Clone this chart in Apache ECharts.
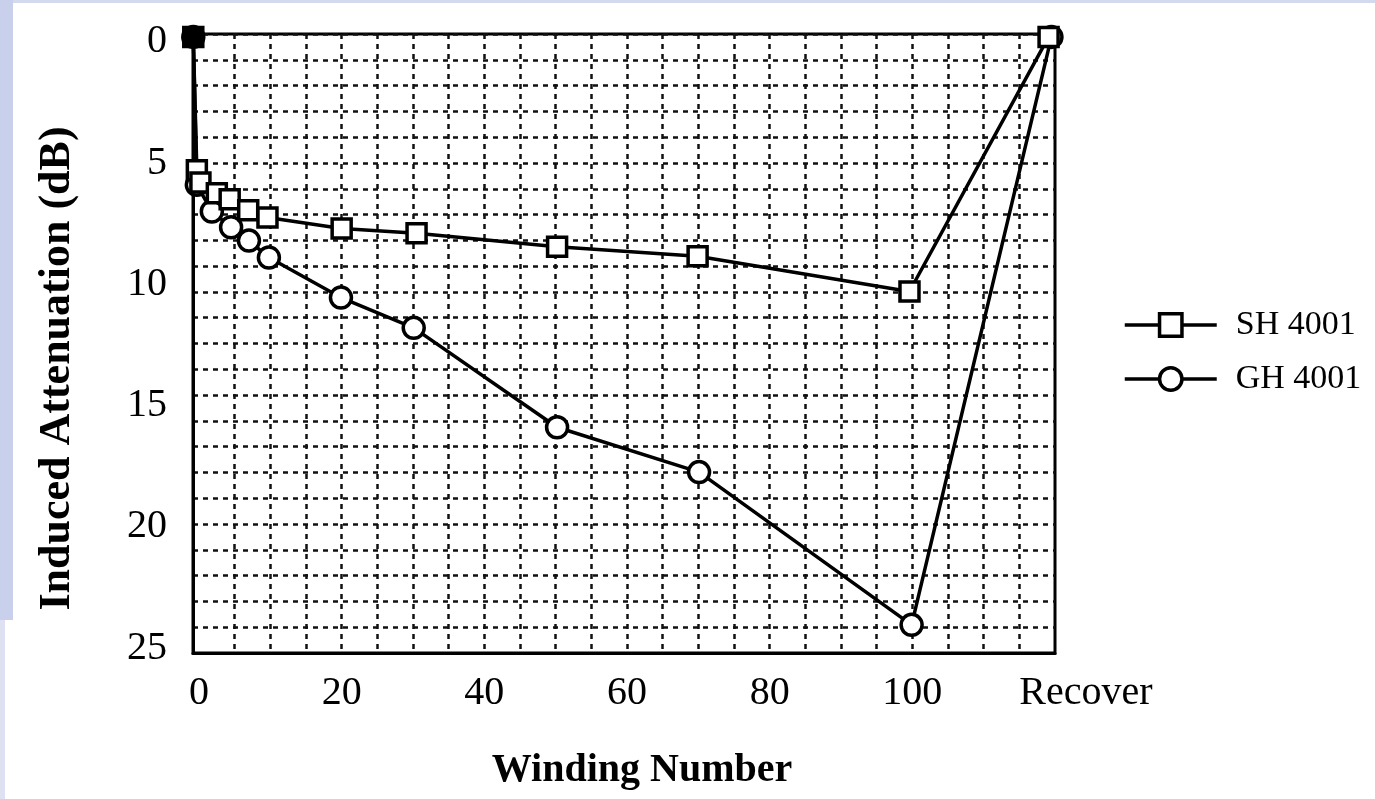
<!DOCTYPE html>
<html><head><meta charset="utf-8">
<script src="https://cdn.jsdelivr.net/npm/echarts@6/dist/echarts.min.js"></script>
<style>html,body{margin:0;padding:0;background:#fff}#c{width:1375px;height:799px}</style>
</head><body><div id="c"></div>
<script>
const seriesNames = ['SH 4001', 'GH 4001'];
const shX = [-0.8, -0.3, 0.2, 2.5, 4.3, 6.9, 9.6, 20, 30.5, 50.2, 69.9, 99.6, 119.1];
const shY = [0, 5.5, 6.0, 6.45, 6.7, 7.15, 7.45, 7.9, 8.1, 8.65, 9.05, 10.5, 0];
const ghX = [-0.8, -0.3, 1.8, 4.5, 7.0, 9.8, 19.9, 30.1, 50.2, 70.1, 99.9, 119.5];
const ghY = [0, 6.1, 7.2, 7.85, 8.4, 9.1, 10.75, 12.0, 16.1, 17.95, 24.25, 0];
const xLabelValues = [0, 20, 40, 60, 80, 100, 120];
const xLabelTexts = ['0', '20', '40', '60', '80', '100', 'Recover'];
const xGridValues = [5, 10, 15, 20, 25, 30, 35, 40, 45, 50, 55, 60, 65, 70, 75, 80, 85, 90, 95, 100, 105, 110, 115];
const yLabelValues = [0, 5, 10, 15, 20, 25];

const FONT = 'Liberation Serif';
function pts(xs, ys) {
  return xs.map((x, i) => i === 0
    ? { value: [x, ys[i]], itemStyle: { color: '#000' } }
    : [x, ys[i]]);
}
const chart = echarts.init(document.getElementById('c'));
const dashed = { show: true, lineStyle: { color: '#111', width: 2.5, type: [5, 5] } };
chart.setOption({
  animation: false,
  backgroundColor: '#fff',
  graphic: [
    { type: 'rect', z: -10, shape: { x: 0, y: 0, width: 1375, height: 3 }, style: { fill: '#d3d9ef' } },
    { type: 'rect', z: -10, shape: { x: 0, y: 0, width: 13, height: 620 }, style: { fill: '#c9d0ec' } },
    { type: 'rect', z: -10, shape: { x: 0, y: 620, width: 5, height: 179 }, style: { fill: '#dde1f2' } }
  ],
  grid: { left: 193, right: 320, top: 34, bottom: 146, show: true, borderColor: '#000', borderWidth: 3, backgroundColor: 'transparent' },
  legend: {
    orient: 'vertical', left: 1118, top: 303, itemWidth: 92, itemHeight: 28, itemGap: 20,
    textStyle: { fontFamily: FONT, fontSize: 34, color: '#000', padding: [0, 0, 0, 14] },
    lineStyle: { width: 3.5, color: '#000' },
    itemStyle: { color: '#fff', borderColor: '#000', borderWidth: 3.5 },
    data: seriesNames
  },
  xAxis: {
    type: 'value', min: -0.84, max: 120,
    name: 'Winding Number', nameLocation: 'middle', nameGap: 98,
    nameTextStyle: { fontFamily: FONT, fontSize: 40, fontWeight: 'bold', color: '#000', padding: [0, 0, 0, 36] },
    axisLine: { show: true, onZero: false, lineStyle: { color: '#000', width: 3 } },
    axisTick: { show: false, customValues: xGridValues },
    splitLine: dashed,
    axisLabel: {
      customValues: xLabelValues, margin: 20,
      fontFamily: FONT, fontSize: 40, color: '#000',
      formatter: v => { const i = xLabelValues.indexOf(v); return i === xLabelValues.length - 1 ? '{r|' + xLabelTexts[i] + '}' : xLabelTexts[i]; },
      rich: { r: { fontFamily: FONT, fontSize: 40, color: '#000', padding: [0, 0, 0, 62] } }
    }
  },
  yAxis: [{
    type: 'value', inverse: true, min: -0.12, max: 25.41,
    name: 'Induced Attenuation (dB)', nameLocation: 'middle', nameGap: 113,
    nameTextStyle: { fontFamily: FONT, fontSize: 44, fontWeight: 'bold', color: '#000', padding: [0, 50, 0, 0] },
    axisLine: { show: true, onZero: false, lineStyle: { color: '#000', width: 3 } },
    axisTick: { show: false },
    splitLine: { show: false },
    axisLabel: {
      customValues: yLabelValues, margin: 26, fontFamily: FONT, fontSize: 40, color: '#000',
      formatter: v => '{a|' + v + '}',
      rich: { a: { fontFamily: FONT, fontSize: 40, color: '#000', padding: [10, 0, 0, 0] } }
    }
  }, {
    type: 'value', inverse: true, min: 0, max: 24, interval: 1, position: 'left',
    axisLine: { show: false, onZero: false }, axisTick: { show: false }, axisLabel: { show: false },
    splitLine: dashed
  }],
  series: [
    { name: seriesNames[0], type: 'line', yAxisIndex: 0, data: pts(shX, shY), symbol: 'rect', symbolSize: 19,
      itemStyle: { color: '#fff', borderColor: '#000', borderWidth: 3.5 }, lineStyle: { color: '#000', width: 3.5 }, z: 5 },
    { name: seriesNames[1], type: 'line', yAxisIndex: 0, data: pts(ghX, ghY), symbol: 'circle', symbolSize: 21,
      itemStyle: { color: '#fff', borderColor: '#000', borderWidth: 3.5 }, lineStyle: { color: '#000', width: 3.5 }, z: 4 }
  ]
});
</script></body></html>
